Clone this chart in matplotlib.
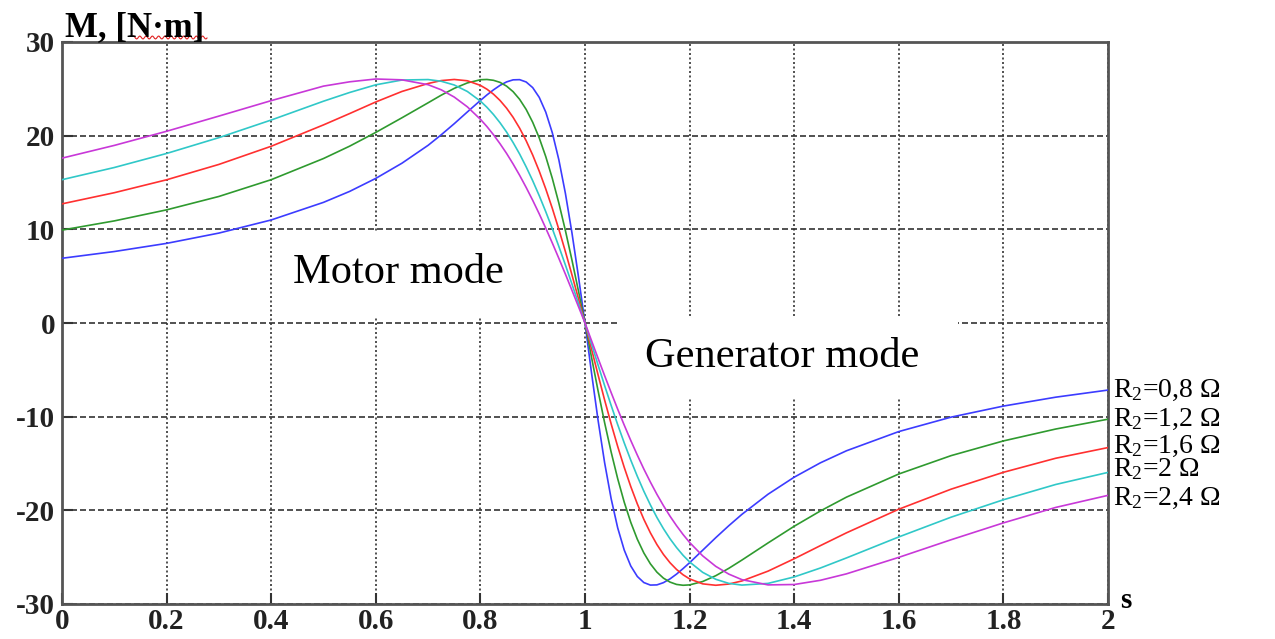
import numpy as np
import matplotlib
matplotlib.use("Agg")
import matplotlib.pyplot as plt
from matplotlib.patches import Rectangle
from matplotlib.lines import Line2D

plt.rcParams['font.family'] = ['Liberation Serif', 'DejaVu Serif']
plt.rcParams['mathtext.fontset'] = 'custom'
plt.rcParams['mathtext.rm'] = 'Liberation Serif'
plt.rcParams['mathtext.default'] = 'regular'
plt.rcParams['axes.unicode_minus'] = False

# slip values (shared by all curves)
s = [0, 0.1, 0.2, 0.3, 0.4, 0.5, 0.55, 0.6, 0.65, 0.7, 0.725, 0.75, 0.775, 0.8,
     0.8125, 0.825, 0.8375, 0.85, 0.8625, 0.875, 0.8875, 0.9, 0.9125, 0.925, 0.9375,
     0.95, 0.9625, 0.975, 0.9875, 1.0,
     1.0125, 1.025, 1.0375, 1.05, 1.0625, 1.075, 1.0875, 1.1, 1.1125, 1.125, 1.1375,
     1.15, 1.1625, 1.175, 1.1875, 1.2, 1.225, 1.25, 1.275, 1.3, 1.35, 1.4, 1.45, 1.5,
     1.6, 1.7, 1.8, 1.9, 2.0]

# torque values, N*m
m_08 = [6.91, 7.63, 8.50, 9.60, 11.00, 12.88, 14.05, 15.44, 17.06, 18.97, 20.09, 21.28, 22.53, 23.76,
        24.35, 24.89, 25.37, 25.74, 25.96, 25.98, 25.73, 25.13, 24.09, 22.51, 20.31,
        17.42, 13.85, 9.64, 4.95, 0,
        -5.34, -10.39, -14.91, -18.76, -21.87, -24.24, -25.94, -27.06, -27.71, -27.98, -27.96,
        -27.72, -27.32, -26.81, -26.22, -25.59, -24.26, -22.92, -21.64, -20.43, -18.28, -16.46, -14.93, -13.64,
        -11.59, -10.05, -8.87, -7.92, -7.16]
m_12 = [9.92, 10.90, 12.08, 13.51, 15.30, 17.56, 18.88, 20.35, 21.91, 23.51, 24.32, 25.05, 25.63, 25.97,
        26.00, 25.91, 25.69, 25.29, 24.70, 23.88, 22.80, 21.43, 19.76, 17.76, 15.44,
        12.80, 9.88, 6.73, 3.41, 0,
        -3.67, -7.24, -10.64, -13.78, -16.62, -19.13, -21.28, -23.08, -24.55, -25.71, -26.60,
        -27.24, -27.66, -27.91, -28.00, -27.96, -27.60, -26.98, -26.19, -25.31, -23.48, -21.70, -20.07, -18.59,
        -16.12, -14.16, -12.59, -11.32, -10.27]
m_16 = [12.72, 13.91, 15.29, 16.93, 18.87, 21.15, 22.36, 23.60, 24.72, 25.57, 25.88, 26.00, 25.86, 25.37,
        24.96, 24.43, 23.76, 22.94, 21.96, 20.80, 19.46, 17.93, 16.21, 14.31, 12.24,
        10.00, 7.63, 5.15, 2.59, 0,
        -2.79, -5.54, -8.22, -10.77, -13.18, -15.41, -17.46, -19.31, -20.96, -22.40, -23.65,
        -24.71, -25.59, -26.31, -26.88, -27.32, -27.85, -28.00, -27.87, -27.54, -26.49, -25.17, -23.77, -22.40,
        -19.88, -17.74, -15.94, -14.44, -13.30]
m_20 = [15.30, 16.60, 18.10, 19.79, 21.67, 23.68, 24.61, 25.43, 25.94, 25.99, 25.81, 25.41, 24.72, 23.69,
        23.03, 22.26, 21.38, 20.39, 19.27, 18.04, 16.67, 15.19, 13.59, 11.88, 10.07,
        8.17, 6.20, 4.17, 2.09, 0,
        -2.25, -4.49, -6.68, -8.80, -10.85, -12.80, -14.64, -16.36, -17.96, -19.42, -20.76,
        -21.96, -23.03, -23.97, -24.80, -25.51, -26.62, -27.36, -27.80, -27.98, -27.80, -27.11, -26.16, -25.08,
        -22.84, -20.73, -18.87, -17.24, -15.95]
m_24 = [17.60, 18.96, 20.47, 22.09, 23.74, 25.29, 25.75, 26.05, 25.96, 25.44, 24.90, 24.12, 23.08, 21.75,
        20.97, 20.10, 19.14, 18.11, 16.98, 15.77, 14.47, 13.10, 11.65, 10.12, 8.54,
        6.90, 5.22, 3.50, 1.75, 0,
        -1.89, -3.77, -5.62, -7.43, -9.20, -10.90, -12.54, -14.10, -15.59, -16.98, -18.29,
        -19.50, -20.62, -21.64, -22.58, -23.43, -24.86, -25.98, -26.81, -27.40, -27.96, -27.92, -27.47, -26.78,
        -25.02, -23.14, -21.34, -19.69, -18.40]

series = [m_08, m_12, m_16, m_20, m_24]
labels = ['R$_2$=0,8 Ω', 'R$_2$=1,2 Ω', 'R$_2$=1,6 Ω', 'R$_2$=2 Ω', 'R$_2$=2,4 Ω']
colors = ['#3c3cff', '#2f9a2f', '#ff3030', '#30c8c8', '#c838d8']
label_dy = [0, 0, 1, 2, -2.5]   # small nudges so the labels don't collide

x_ticks = [0, 0.2, 0.4, 0.6, 0.8, 1, 1.2, 1.4, 1.6, 1.8, 2]
x_ticklabels = ['0', '0.2', '0.4', '0.6', '0.8', '1', '1.2', '1.4', '1.6', '1.8', '2']
y_ticks = [-30, -20, -10, 0, 10, 20, 30]

fig = plt.figure(figsize=(12.75, 6.39), dpi=100)
ax = fig.add_axes([62/1275, 35/639, 1046/1275, 562/639])

for m, c in zip(series, colors):
    ax.plot(s, m, color=c, lw=1.2, zorder=3)

for m, lab, dy in zip(series, labels, label_dy):
    ax.annotate(lab, xy=(2, m[-1]), xytext=(3.5, dy), textcoords='offset points',
                va='center', ha='left', fontsize=20, annotation_clip=False)

ax.set_xlim(0, 2)
ax.set_ylim(-30, 30)
ax.set_xticks(x_ticks)
ax.set_xticklabels(x_ticklabels)
ax.set_yticks(y_ticks)
for lab in ax.get_xticklabels() + ax.get_yticklabels():
    lab.set_fontweight('bold')
    lab.set_fontsize(21)
    lab.set_color('#222222')
ax.tick_params(direction='in', length=8, width=1.5, color='#333333')
ax.tick_params(axis='x', pad=3)
ax.tick_params(axis='y', pad=5)

ax.set_axisbelow(True)
ax.xaxis.grid(True, color='#333333', lw=1.2, linestyle=(0, (1.2, 1.5)))
ax.yaxis.grid(True, color='#333333', lw=1.2, linestyle=(0, (3.6, 1.8)))

for sp in ax.spines.values():
    sp.set_color('#555555')
    sp.set_linewidth(2)

# white boxes behind the mode captions
ax.add_patch(Rectangle((0.4015, 0.53), 0.475, 9.17, facecolor='white', edgecolor='none', zorder=1.5))
ax.add_patch(Rectangle((1.067, -8.0), 0.646, 8.75, facecolor='white', edgecolor='none', zorder=1.5))
ax.text(0.4417, 4.27, 'Motor mode', fontsize=30.5, va='baseline', ha='left', zorder=4)
ax.text(1.1147, -4.7, 'Generator mode', fontsize=30.5, va='baseline', ha='left', zorder=4)

fig.text(65/1275, 1 - 36/639, 'M, [N·m]', fontsize=25, fontweight='bold', va='baseline', ha='left')
fig.text(1120/1275, 1 - 600/639, 's', fontsize=21, fontweight='bold', va='center', ha='left')

# red spell-check squiggle under the unit
wx = np.linspace(133, 207, 80)
wy = 639 - 37.5 + 1.5*np.sin(wx)
fig.add_artist(Line2D(wx/1275, wy/639, color='#e02020', lw=0.8))

fig.savefig('out.png', dpi=100)
